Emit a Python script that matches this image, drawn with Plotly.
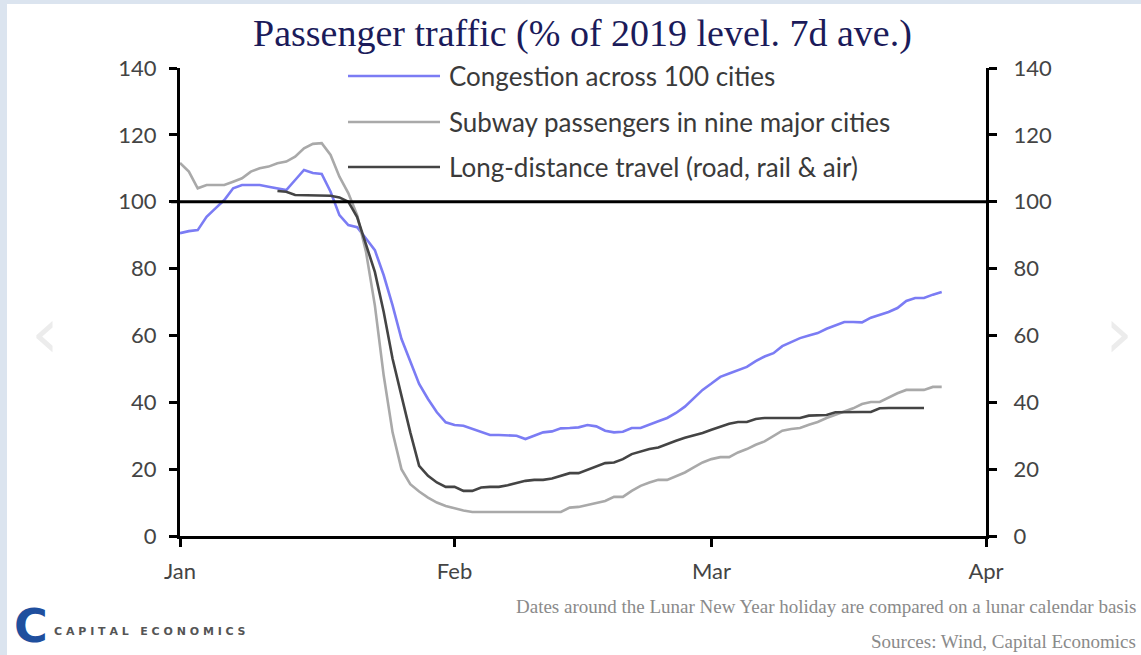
import pandas as pd
import plotly.graph_objects as go

# ---- data (daily values, % of 2019 level, 7d average) ----
congestion_start = "2020-01-01"
congestion = [90.6, 91.2, 91.5, 95.5, 98, 100.5, 104, 105, 105, 105,
              104.5, 104, 103.5, 106.5, 109.5, 108.6, 108.3, 103, 96, 93,
              92.4, 89, 85.5, 78, 69, 59, 52, 45.5, 41, 37,
              34, 33.2, 33, 32, 31, 30.2, 30.2, 30.2, 30, 29,
              30, 31, 31.3, 32.2, 32.3, 32.5, 33.2, 32.8, 31.5, 31,
              31.2, 32.3, 32.3, 33.2, 34.3, 35.3, 36.8, 38.7, 41.3, 43.7,
              45.6, 47.6, 48.6, 49.6, 50.6, 52.3, 53.7, 54.7, 56.8, 58,
              59.2, 60, 60.7, 62, 63, 64, 64, 63.9, 65.3, 66.2,
              67, 68.2, 70.3, 71.2, 71.2, 72.2, 73]

subway_start = "2020-01-01"
subway = [111.6, 109, 104, 105, 105, 105, 106, 107, 109, 110,
          110.5, 111.5, 112, 113.5, 116, 117.3, 117.5, 114, 107.5, 102.6,
          96, 85, 69, 48, 31, 20, 15.5, 13.3, 11.5, 10,
          9, 8.3, 7.6, 7.2, 7.2, 7.2, 7.2, 7.2, 7.2, 7.2,
          7.2, 7.2, 7.2, 7.2, 8.5, 8.7, 9.3, 10, 10.5, 11.7,
          11.7, 13.5, 15, 16, 16.8, 16.8, 17.8, 19, 20.5, 22,
          23, 23.6, 23.6, 25, 26, 27.3, 28.3, 29.8, 31.5, 32,
          32.3, 33.3, 34.1, 35.3, 36.3, 37.2, 38.2, 39.5, 40.1, 40.1,
          41.4, 42.7, 43.7, 43.7, 43.7, 44.6, 44.6]

longdist_start = "2020-01-12"
longdist = [103.2, 103, 102, 102, 102, 102, 101.8, 101.3, 100, 95.4,
            87.5, 79, 67, 53, 42, 31, 21, 18, 16, 14.7,
            14.7, 13.5, 13.5, 14.5, 14.7, 14.7, 15.2, 15.9, 16.5, 16.8,
            16.8, 17.2, 18, 18.8, 18.8, 19.8, 21, 21.8, 22, 23,
            24.5, 25.3, 26, 26.5, 27.6, 28.5, 29.4, 30, 30.8, 31.8,
            32.8, 33.6, 34.1, 34.1, 35, 35.3, 35.3, 35.3, 35.3, 35.3,
            36, 36.2, 36.2, 37, 37.1, 37.1, 37.1, 37.1, 38.2, 38.3,
            38.3, 38.3, 38.3, 38.3]

series_names = ["Congestion across 100 cities",
                "Subway passengers in nine major cities",
                "Long-distance travel (road, rail & air)"]
series_colors = ["#7b7cf4", "#a9a9a9", "#444444"]

month_ticks = ["2020-01-01", "2020-02-01", "2020-03-01", "2020-04-01"]
month_labels = ["Jan", "Feb", "Mar", "Apr"]
y_ticks = [0, 20, 40, 60, 80, 100, 120, 140]
reference_level = 100

# ---- figure ----
fig = go.Figure()
all_series = [(congestion_start, congestion), (subway_start, subway), (longdist_start, longdist)]
for (start, vals), name, col in zip(all_series, series_names, series_colors):
    x = pd.date_range(start, periods=len(vals), freq="D")
    fig.add_trace(go.Scatter(x=x, y=vals, mode="lines", name=name,
                             line=dict(color=col, width=2.6), showlegend=False))

# invisible trace to carry the right-hand axis
fig.add_trace(go.Scatter(x=[month_ticks[0]], y=[reference_level], yaxis="y2",
                         mode="markers", marker=dict(opacity=0), showlegend=False,
                         hoverinfo="skip"))

tick_font = dict(family="Lato, Noto Sans, sans-serif", size=22, color="#444444")

fig.update_layout(
    width=1141, height=655,
    margin=dict(l=180, r=155, t=68, b=119),
    paper_bgcolor="#dbe4ef",
    plot_bgcolor="rgba(0,0,0,0)",
    xaxis=dict(type="date", range=[month_ticks[0], month_ticks[-1]],
               tickvals=month_ticks, ticktext=month_labels,
               ticks="outside", ticklen=8, tickwidth=3, tickcolor="black",
               showline=True, linecolor="black", linewidth=3,
               showgrid=False, zeroline=False, tickfont=tick_font,
               ticklabelstandoff=6),
    yaxis=dict(range=[0, 140], tickvals=y_ticks,
               ticks="outside", ticklen=8, tickwidth=3, tickcolor="black",
               showline=True, linecolor="black", linewidth=3,
               showgrid=False, zeroline=False, tickfont=tick_font,
               ticklabelstandoff=8),
    yaxis2=dict(range=[0, 140], tickvals=y_ticks, overlaying="y", side="right",
                ticks="outside", ticklen=8, tickwidth=3, tickcolor="black",
                showline=True, linecolor="black", linewidth=3,
                showgrid=False, zeroline=False, tickfont=tick_font,
                ticklabelstandoff=12),
    showlegend=False,
)

# white page area
fig.add_shape(type="rect", xref="paper", yref="paper",
              x0=(7 - 180) / 806, x1=1.25, y0=-0.3, y1=(536 - 4) / 468,
              fillcolor="white", line=dict(width=0), layer="below")

# reference line at 100
fig.add_shape(type="line", xref="paper", yref="y", x0=-0.011, x1=1, y0=reference_level,
              y1=reference_level, line=dict(color="black", width=3))

# title
fig.add_annotation(text="Passenger traffic (% of 2019 level. 7d ave.)",
                   xref="paper", yref="paper", x=(582 - 180) / 806, y=(536 - 33) / 468,
                   xanchor="center", yanchor="middle", showarrow=False,
                   font=dict(family="Liberation Serif, serif", size=38, color="#1b1b5a"))

# legend (manual)
legend_y = [76, 122, 167]
for name, col, py in zip(series_names, series_colors, legend_y):
    yp = (536 - py) / 468
    fig.add_shape(type="line", xref="paper", yref="paper",
                  x0=(348 - 180) / 806, x1=(440 - 180) / 806, y0=yp, y1=yp,
                  line=dict(color=col, width=2.6))
    fig.add_annotation(text=name, xref="paper", yref="paper",
                       x=(447 - 180) / 806, y=yp, xanchor="left", yanchor="middle",
                       showarrow=False,
                       font=dict(family="Lato, Noto Sans, sans-serif", size=26, color="#3a3a3a"))

# footnotes
fig.add_annotation(text="Dates around the Lunar New Year holiday are compared on a lunar calendar basis",
                   xref="paper", yref="paper", x=(1138 - 180) / 806, y=(536 - 606) / 468,
                   xanchor="right", yanchor="middle", showarrow=False,
                   font=dict(family="Liberation Serif, serif", size=19, color="#8a8a8a"))
fig.add_annotation(text="Sources: Wind, Capital Economics",
                   xref="paper", yref="paper", x=(1138 - 180) / 806, y=(536 - 641) / 468,
                   xanchor="right", yanchor="middle", showarrow=False,
                   font=dict(family="Liberation Serif, serif", size=19, color="#8a8a8a"))

# logo
fig.add_annotation(text="<b>C</b>", xref="paper", yref="paper",
                   x=(31 - 180) / 806, y=(536 - 626) / 468, xanchor="center", yanchor="middle",
                   showarrow=False,
                   font=dict(family="DejaVu Sans, sans-serif", size=46, color="#1f4f9e"))
fig.add_annotation(text="<b>C A P I T A L   E C O N O M I C S</b>", xref="paper", yref="paper",
                   x=(52 - 180) / 806, y=(536 - 631) / 468, xanchor="left", yanchor="middle",
                   showarrow=False,
                   font=dict(family="DejaVu Sans, sans-serif", size=11, color="#555555"))

# carousel chevrons
for px, ch in [(45, "‹"), (1119, "›")]:
    fig.add_annotation(text=ch, xref="paper", yref="paper",
                       x=(px - 180) / 806, y=(536 - 333) / 468, xanchor="center", yanchor="middle",
                       showarrow=False,
                       font=dict(family="DejaVu Sans, sans-serif", size=70, color="#ececec"))

fig.write_html("out.html", config={"displayModeBar": False},
               post_script="document.body.style.margin='0';document.body.style.overflow='hidden';")
